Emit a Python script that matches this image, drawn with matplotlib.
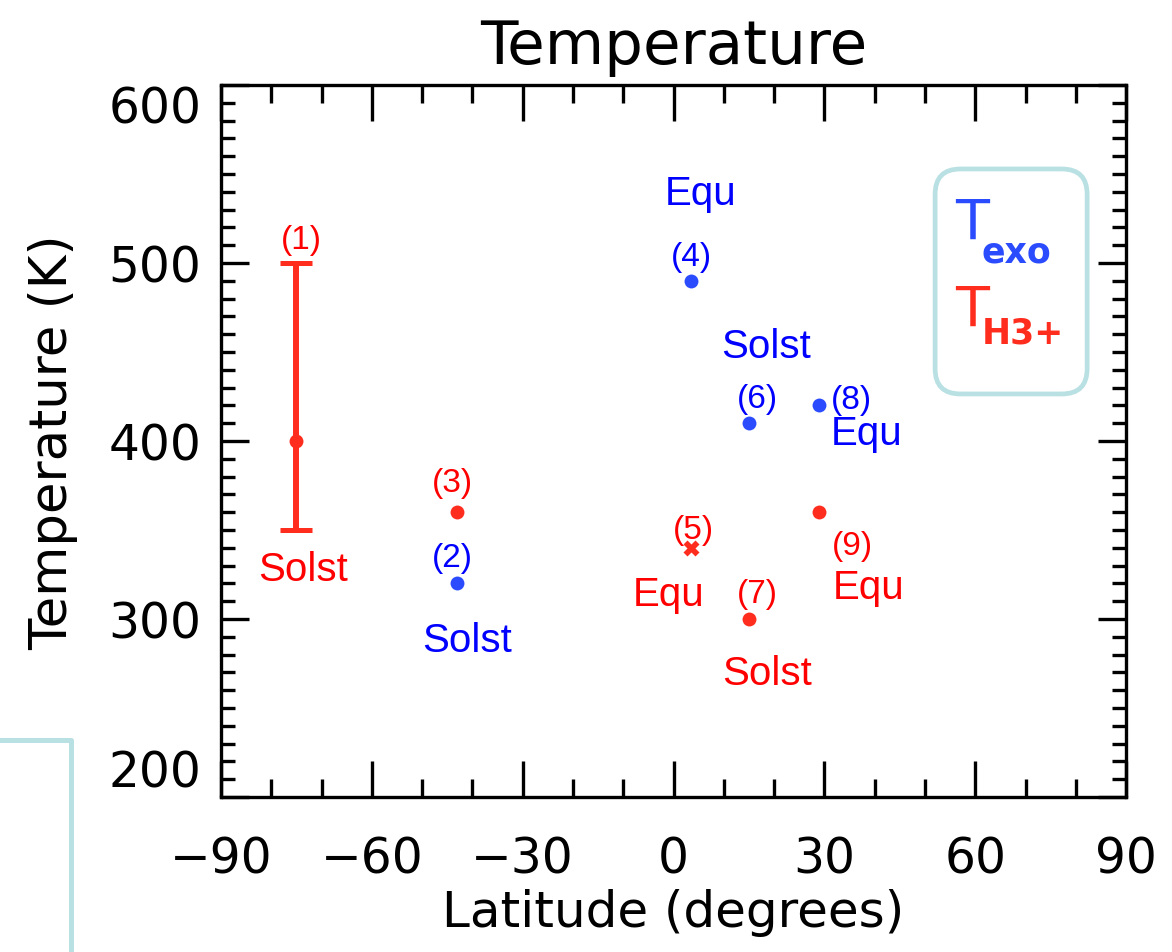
import matplotlib
matplotlib.use("Agg")
import matplotlib.pyplot as plt
from matplotlib.lines import Line2D
from matplotlib.patches import FancyBboxPatch
from matplotlib.ticker import MultipleLocator

# Exospheric temperatures (blue)
exo_id = ["(2)", "(4)", "(6)", "(8)"]
exo_lat = [-43, 3.5, 15, 29]
exo_temp = [320, 490, 410, 420]
exo_season = ["Solst", "Equ", "Solst", "Equ"]

# H3+ temperatures (red); (1) is a range, (5) drawn as an asterisk
h3_id = ["(1)", "(3)", "(5)", "(7)", "(9)"]
h3_lat = [-75, -43, 3.5, 15, 29]
h3_temp = [400, 360, 340, 300, 360]
h3_season = ["Solst", "", "Equ", "Solst", "Equ"]
h3_marker = ["o", "o", "X", "o", "o"]
range1_lo, range1_hi = 350, 500

xticks = [-90, -60, -30, 0, 30, 60, 90]
yticks = [200, 300, 400, 500, 600]

BLUE_TXT, RED_TXT = "#0000ff", "#ff0000"
BLUE_PT, RED_PT = "#2b4bff", "#ff2d1e"
BOX = "#b9e0e3"
LABEL_FONT = "Liberation Sans"

# label offsets (points) relative to the data point: id label, season label
exo_off = {
    "(2)": ((-3.8, 12.2), (7.0, -49.0)),
    "(4)": ((0.5, 11.5), (6.6, 55.4)),
    "(6)": ((5.9, 11.5), (12.5, 47.5)),
    "(8)": ((23.1, -1.7), (34.0, -28.0)),
}
h3_off = {
    "(3)": ((-3.6, 15.1), None),
    "(5)": ((1.6, 6.7), (-16.0, -41.3)),
    "(7)": ((6.1, 12.0), (13.1, -46.8)),
    "(9)": ((23.8, -30.0), (35.3, -61.9)),
}

fig = plt.figure(figsize=(11.72, 9.53), dpi=100)
ax = fig.add_axes([0.1886, 0.1627, 0.9608 - 0.1886, 0.9098 - 0.1627])


def label(txt, x, y, off, color, size):
    ax.annotate(txt, (x, y), xytext=off, textcoords="offset points",
                ha="center", va="baseline", color=color, fontsize=size,
                family=LABEL_FONT)


# exospheric points
for i, lat, t, s in zip(exo_id, exo_lat, exo_temp, exo_season):
    ax.plot(lat, t, "o", color=BLUE_PT, ms=10, mec="none")
    id_off, s_off = exo_off[i]
    label(i, lat, t, id_off, BLUE_TXT, 24)
    label(s, lat, t, s_off, BLUE_TXT, 29)

# H3+ range (1)
lat1, t1 = h3_lat[0], h3_temp[0]
ax.errorbar(lat1, t1, yerr=[[t1 - range1_lo], [range1_hi - t1]], fmt="o",
            color=RED_PT, ms=10, mec="none", elinewidth=4.3, capsize=11.5,
            capthick=3.6)
label(h3_id[0], lat1, range1_hi, (3.6, 10.8), RED_TXT, 24)
label(h3_season[0], lat1, range1_lo, (4.5, -35.8), RED_TXT, 29)

# remaining H3+ points
for i, lat, t, s, m in zip(h3_id[1:], h3_lat[1:], h3_temp[1:],
                           h3_season[1:], h3_marker[1:]):
    ax.plot(lat, t, m, color=RED_PT, ms=10 if m == "o" else 11, mec="none")
    id_off, s_off = h3_off[i]
    label(i, lat, t, id_off, RED_TXT, 24)
    if s:
        label(s, lat, t, s_off, RED_TXT, 29)

ax.set_xlim(-90, 90)
ax.set_ylim(200, 600)
ax.set_xticks(xticks)
ax.set_yticks(yticks)
ax.xaxis.set_minor_locator(MultipleLocator(10))
ax.yaxis.set_minor_locator(MultipleLocator(10))
ax.tick_params(axis="both", which="both", direction="in", top=True,
               right=True, width=2.4, labelsize=35, colors="black")
ax.tick_params(axis="x", which="major", length=26, pad=27)
ax.tick_params(axis="x", which="minor", length=13)
ax.tick_params(axis="y", which="major", length=20, pad=14)
ax.tick_params(axis="y", which="minor", length=10)
for sp in ax.spines.values():
    sp.set_linewidth(2.4)

# keep the end labels of the y axis inside the frame
ylabels = ax.get_yticklabels()
ylabels[0].set_va("bottom")
ylabels[-1].set_va("top")

ax.set_xlabel("Latitude (degrees)", fontsize=36, labelpad=4)
ax.set_ylabel("Temperature (K)", fontsize=37, labelpad=22)
ax.set_title("Temperature", fontsize=44, pad=16)

# key box in the upper right
ax.add_patch(FancyBboxPatch((0.789, 0.566), 0.957 - 0.789, 0.882 - 0.566,
                            boxstyle="round,pad=0,rounding_size=0.028",
                            mutation_aspect=905 / 712, transform=ax.transAxes,
                            fc="white", ec=BOX, lw=3.4, zorder=1))
ax.text(0.811, 0.785, "T", transform=ax.transAxes, color=BLUE_PT, fontsize=40,
        ha="left", va="baseline")
ax.text(0.840, 0.752, "exo", transform=ax.transAxes, color=BLUE_PT,
        fontsize=25, fontweight="bold", ha="left", va="baseline")
ax.text(0.811, 0.663, "T", transform=ax.transAxes, color=RED_PT, fontsize=40,
        ha="left", va="baseline")
ax.text(0.840, 0.638, "H3+", transform=ax.transAxes, color=RED_PT,
        fontsize=25, fontweight="bold", ha="left", va="baseline")

# partial frame at the lower left of the canvas
fig.add_artist(Line2D([0, 0.0606, 0.0606], [0.2225, 0.2225, 0],
                      transform=fig.transFigure, color=BOX, lw=3.6))

fig.savefig("out.png", dpi=100)
